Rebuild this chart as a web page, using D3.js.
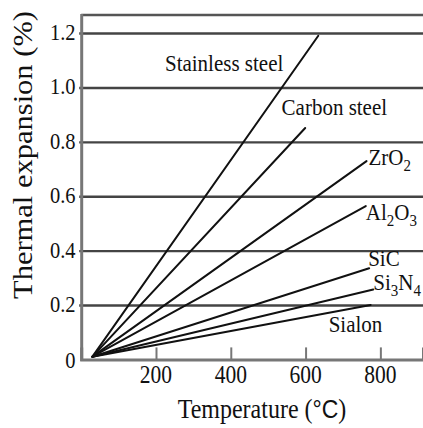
<!DOCTYPE html>
<html>
<head>
<meta charset="utf-8">
<script src="https://cdn.jsdelivr.net/npm/d3@7"></script>
<style>
  html, body { margin: 0; padding: 0; background: #fff; }
  svg { display: block; }
  text { font-family: "Liberation Serif", "Times New Roman", serif; fill: #111; }
</style>
</head>
<body>
<svg id="chart" width="423" height="428"></svg>
<script>
// Thermal expansion of steels and ceramics versus temperature
const materials   = ["Stainless steel", "Carbon steel", "ZrO2", "Al2O3", "SiC", "Si3N4", "Sialon"];
const startTemp   = [30, 30, 30, 30, 30, 30, 30];
const startExp    = [0.01, 0.01, 0.01, 0.01, 0.01, 0.01, 0.01];
const endTemp     = [634, 599, 763, 761, 770, 781, 774];
const endExp      = [1.19, 0.851, 0.729, 0.564, 0.335, 0.257, 0.20];
const xTickValues = [200, 400, 600, 800];
const yTickValues = [0, 0.2, 0.4, 0.6, 0.8, 1.0, 1.2];
const yTickLabels = ["0", "0.2", "0.4", "0.6", "0.8", "1.0", "1.2"];

const W = 423, H = 428;
const margin = { top: 14, right: 0, bottom: 68.6, left: 81.2 };
const svg = d3.select("#chart");

const x = d3.scaleLinear().domain([0, 914]).range([margin.left, W - margin.right]);
const y = d3.scaleLinear().domain([0, 1.27]).range([H - margin.bottom, margin.top]);

const STRETCH = 1.13; // glyphs are drawn a little taller than wide

// horizontal gridlines
const grid = d3.axisLeft(y).tickValues(yTickValues.filter(v => v > 0))
  .tickSize(-(W - margin.left + 2)).tickFormat("");
svg.append("g").attr("transform", `translate(${margin.left - 2},0)`).call(grid)
  .call(g => g.select(".domain").remove())
  .call(g => g.selectAll(".tick line").attr("stroke", "#444").attr("stroke-width", 2.4)
    .attr("transform", `translate(2,0)`).attr("x1", -2));

// top frame
svg.append("line")
  .attr("x1", margin.left).attr("x2", W)
  .attr("y1", y(1.27) + 1).attr("y2", y(1.27) + 1)
  .attr("stroke", "#555").attr("stroke-width", 2.4);

// x-axis with inward ticks
const xAxis = d3.axisBottom(x).tickValues(xTickValues).tickSize(-12).tickFormat("");
svg.append("g").attr("transform", `translate(0,${y(0)})`).call(xAxis)
  .call(g => g.select(".domain").attr("stroke", "#777").attr("stroke-width", 3))
  .call(g => g.selectAll(".tick line").attr("stroke", "#777").attr("stroke-width", 2));

// y-axis line
svg.append("line")
  .attr("x1", margin.left + 0.5).attr("x2", margin.left + 0.5)
  .attr("y1", y(1.27)).attr("y2", y(0) + 1.5)
  .attr("stroke", "#777").attr("stroke-width", 3);

// stretched text helper
function label(parent, px, py, str, size, anchor) {
  const g = parent.append("g").attr("transform", `translate(${px},${py}) scale(1,${STRETCH})`);
  return g.append("text").attr("font-size", size).attr("text-anchor", anchor || "start").text(str);
}

// y tick labels
yTickValues.forEach((v, i) => {
  label(svg, 75.5, y(v) + (v === 0 ? 8.4 : 7), yTickLabels[i], 20.5, "end");
});

// x tick labels
xTickValues.forEach(v => {
  label(svg, x(v), 383, String(v), 21.5, "middle");
});

// expansion lines
const line = d3.line().x(d => x(d[0])).y(d => y(d[1]));
materials.forEach((m, i) => {
  svg.append("path")
    .attr("d", line([[startTemp[i], startExp[i]], [endTemp[i], endExp[i]]]))
    .attr("fill", "none").attr("stroke", "#111").attr("stroke-width", 2)
    .attr("stroke-linecap", "round");
});

// series labels, placed relative to each line's end
const labelOffset = {
  "Stainless steel": { dx: -35, dy: 35.7, anchor: "end" },
  "Carbon steel":    { dx: -23.6, dy: -12.7, anchor: "start" },
  "ZrO2":            { dx: 2, dy: 4, anchor: "start" },
  "Al2O3":           { dx: 0, dy: 14, anchor: "start" },
  "SiC":             { dx: -1, dy: -2, anchor: "start" },
  "Si3N4":           { dx: 0, dy: 0.5, anchor: "start" },
  "Sialon":          { dx: -42, dy: 27, anchor: "start" }
};
materials.forEach((m, i) => {
  const o = labelOffset[m];
  const px = x(endTemp[i]) + o.dx, py = y(endExp[i]) + o.dy;
  const t = label(svg, px, py, "", 21, o.anchor);
  // split chemical formulas into normal text and subscript digits
  const parts = m.includes(" ") || m === "Sialon" ? [m] : m.match(/[A-Za-z]+|\d+/g);
  let sub = false;
  parts.forEach(p => {
    const isNum = /^\d+$/.test(p);
    const ts = t.append("tspan").text(p);
    if (isNum && !sub) { ts.attr("font-size", 15).attr("dy", 5); sub = true; }
    else if (!isNum && sub) { ts.attr("dy", -5); sub = false; }
    else if (isNum) { ts.attr("font-size", 15); }
  });
});

// axis titles
const xt = label(svg, 262, 418, "", 24, "middle");
xt.append("tspan").text("Temperature (");
xt.append("tspan").attr("font-family", "Liberation Sans, Arial, sans-serif").attr("font-size", 23)
  .text("\u00B0C");
xt.append("tspan").text(")");

svg.append("g").attr("transform", `translate(32,155) rotate(-90) scale(${STRETCH},1)`)
  .append("text").attr("font-size", 27).attr("text-anchor", "middle")
  .text("Thermal expansion (%)");
</script>
</body>
</html>
